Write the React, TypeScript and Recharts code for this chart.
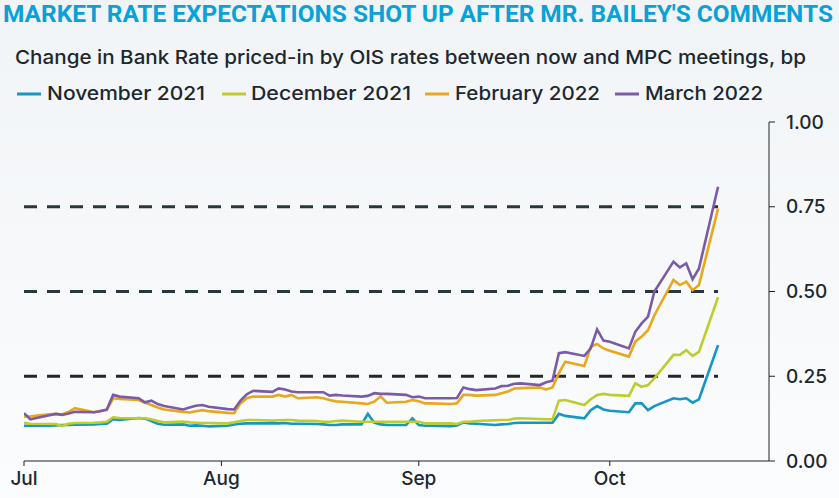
import React from 'react';
import { LineChart, Line, XAxis, YAxis, ReferenceLine } from 'recharts';

// day offsets from 1 Jul 2021 (business days up to 18 Oct)
const days = [
  0, 1, 4, 5, 6, 7, 8, 11, 12, 13, 14, 15, 18, 19, 20, 21, 22, 25, 26, 27, 28, 29,
  32, 33, 34, 35, 36, 39, 40, 41, 42, 43, 46, 47, 48, 49, 50, 53, 54, 55, 56, 57,
  60, 61, 62, 63, 64, 67, 68, 69, 70, 71, 74, 75, 76, 77, 78, 81, 82, 83, 84, 85,
  88, 89, 90, 91, 92, 95, 96, 97, 98, 99, 102, 103, 104, 105, 106, 109,
];

const nov21 = [
  0.104, 0.104, 0.104, 0.105, 0.106, 0.106, 0.107, 0.108, 0.109, 0.110, 0.123, 0.121,
  0.127, 0.125, 0.118, 0.110, 0.107, 0.108, 0.104, 0.105, 0.104, 0.102,
  0.104, 0.108, 0.110, 0.111, 0.111, 0.111, 0.111, 0.112, 0.110, 0.110,
  0.109, 0.108, 0.106, 0.106, 0.108, 0.108, 0.139, 0.113, 0.108, 0.106,
  0.106, 0.126, 0.106, 0.104, 0.104, 0.103, 0.105, 0.114, 0.111, 0.110,
  0.106, 0.108, 0.109, 0.112, 0.113, 0.113, 0.113, 0.113, 0.139, 0.133,
  0.126, 0.150, 0.162, 0.152, 0.148, 0.144, 0.170, 0.170, 0.150, 0.162,
  0.185, 0.182, 0.185, 0.172, 0.182, 0.342,
];

const dec21 = [
  0.113, 0.110, 0.109, 0.109, 0.103, 0.110, 0.112, 0.113, 0.114, 0.116, 0.129, 0.127,
  0.126, 0.126, 0.123, 0.118, 0.114, 0.116, 0.114, 0.113, 0.112, 0.112,
  0.111, 0.114, 0.118, 0.121, 0.121, 0.119, 0.120, 0.121, 0.121, 0.119,
  0.118, 0.116, 0.116, 0.118, 0.119, 0.116, 0.116, 0.116, 0.116, 0.116,
  0.116, 0.116, 0.116, 0.111, 0.111, 0.111, 0.109, 0.116, 0.116, 0.118,
  0.120, 0.121, 0.121, 0.125, 0.126, 0.124, 0.123, 0.123, 0.178, 0.180,
  0.165, 0.182, 0.195, 0.198, 0.195, 0.192, 0.229, 0.219, 0.224, 0.244,
  0.313, 0.313, 0.327, 0.310, 0.322, 0.483,
];

const feb22 = [
  0.131, 0.132, 0.138, 0.139, 0.137, 0.145, 0.156, 0.144, 0.148, 0.150, 0.185, 0.183,
  0.180, 0.172, 0.165, 0.158, 0.152, 0.145, 0.143, 0.147, 0.150, 0.147,
  0.142, 0.141, 0.170, 0.185, 0.190, 0.190, 0.195, 0.190, 0.195, 0.185,
  0.188, 0.185, 0.180, 0.176, 0.175, 0.170, 0.168, 0.175, 0.190, 0.172,
  0.175, 0.180, 0.176, 0.170, 0.170, 0.168, 0.170, 0.195, 0.195, 0.193,
  0.195, 0.200, 0.205, 0.214, 0.215, 0.217, 0.211, 0.217, 0.259, 0.293,
  0.280, 0.337, 0.345, 0.332, 0.325, 0.308, 0.352, 0.367, 0.386, 0.430,
  0.534, 0.519, 0.529, 0.504, 0.519, 0.745,
];

const mar22 = [
  0.141, 0.123, 0.135, 0.139, 0.136, 0.140, 0.145, 0.144, 0.147, 0.152, 0.195, 0.190,
  0.185, 0.173, 0.178, 0.168, 0.162, 0.152, 0.158, 0.163, 0.165, 0.160,
  0.153, 0.152, 0.178, 0.197, 0.207, 0.204, 0.214, 0.211, 0.205, 0.203,
  0.203, 0.203, 0.193, 0.195, 0.193, 0.190, 0.192, 0.200, 0.198, 0.198,
  0.195, 0.188, 0.190, 0.185, 0.185, 0.185, 0.186, 0.217, 0.212, 0.209,
  0.214, 0.221, 0.222, 0.228, 0.229, 0.224, 0.232, 0.237, 0.318, 0.321,
  0.310, 0.332, 0.388, 0.355, 0.352, 0.332, 0.381, 0.406, 0.426, 0.500,
  0.588, 0.571, 0.583, 0.536, 0.568, 0.809,
];

const monthTicks = [0, 31, 62, 92];
const monthLabels = ['Jul', 'Aug', 'Sep', 'Oct'];
const yTicks = [0, 0.25, 0.5, 0.75, 1];
const thresholds = [0.25, 0.5, 0.75];

const series = [
  { key: 'nov21', name: 'November 2021', color: '#1597c4' },
  { key: 'dec21', name: 'December 2021', color: '#bfcd2c' },
  { key: 'feb22', name: 'February 2022', color: '#e9a71b' },
  { key: 'mar22', name: 'March 2022', color: '#7a5ba6' },
];

const data = days.map((day, i) => ({
  day,
  nov21: nov21[i],
  dec21: dec21[i],
  feb22: feb22[i],
  mar22: mar22[i],
}));

// legend layout
const legendPos = [
  { mark: 17, text: 47, len: 158 },
  { mark: 222, text: 251, len: 160 },
  { mark: 425, text: 455, len: 145 },
  { mark: 615, text: 645, len: 118 },
];

const FONT = 'Inter, "Open Sans", sans-serif';
const INK = '#1c282e';

export default function App() {
  return (
    <div
      style={{
        position: 'relative',
        width: 839,
        height: 498,
        background: 'linear-gradient(#f1f4f7, #fbfcfd)',
        fontFamily: FONT,
      }}
    >
      <style>{'body{margin:0}'}</style>
      <svg width={839} height={110} style={{ position: 'absolute', left: 0, top: 0 }}>
        <text
          x={3}
          y={22}
          textLength={830}
          lengthAdjust="spacingAndGlyphs"
          fontFamily="Roboto, sans-serif"
          fontWeight={700}
          fontSize={23}
          fill="#08a1d8"
        >
          MARKET RATE EXPECTATIONS SHOT UP AFTER MR. BAILEY'S COMMENTS
        </text>
        <text
          x={15}
          y={64}
          textLength={791}
          lengthAdjust="spacingAndGlyphs"
          fontFamily={FONT}
          fontWeight={500}
          fontSize={19}
          fill={INK}
        >
          Change in Bank Rate priced-in by OIS rates between now and MPC meetings, bp
        </text>
        {series.map((s, i) => (
          <g key={s.key}>
            <line
              x1={legendPos[i].mark}
              x2={legendPos[i].mark + 24}
              y1={94}
              y2={94}
              stroke={s.color}
              strokeWidth={3}
            />
            <text
              x={legendPos[i].text}
              y={100}
              textLength={legendPos[i].len}
              lengthAdjust="spacingAndGlyphs"
              fontFamily={FONT}
              fontWeight={500}
              fontSize={19}
              fill={INK}
            >
              {s.name}
            </text>
          </g>
        ))}
      </svg>
      <div style={{ position: 'absolute', left: 0, top: 0 }}>
        <LineChart
          width={839}
          height={498}
          data={data}
          margin={{ top: 122, right: 0, bottom: 7, left: 24 }}
        >
          <XAxis
            dataKey="day"
            type="number"
            domain={[0, 117]}
            ticks={monthTicks}
            tickFormatter={(v: number) => monthLabels[monthTicks.indexOf(v)]}
            height={30}
            stroke="#222"
            tickSize={5}
            tickMargin={6}
            tick={{ fill: INK, fontSize: 19, fontWeight: 500, fontFamily: FONT }}
            allowDataOverflow
          />
          <YAxis
            orientation="right"
            domain={[0, 1]}
            ticks={yTicks}
            tickFormatter={(v: number) => v.toFixed(2)}
            width={70}
            stroke="#222"
            tickSize={6}
            tickMargin={11}
            tick={{ fill: INK, fontSize: 19, fontWeight: 500, fontFamily: FONT, textAnchor: 'start' }}
          />
          {thresholds.map((t) => (
            <ReferenceLine
              key={t}
              segment={[
                { x: 0, y: t },
                { x: 109, y: t },
              ]}
              stroke={t === 0.25 ? '#2b2626' : '#27373c'}
              strokeWidth={3}
              strokeDasharray="13 10"
            />
          ))}
          {series.map((s) => (
            <Line
              key={s.key}
              dataKey={s.key}
              name={s.name}
              type="linear"
              stroke={s.color}
              strokeWidth={2.6}
              dot={false}
              isAnimationActive={false}
            />
          ))}
        </LineChart>
      </div>
    </div>
  );
}
